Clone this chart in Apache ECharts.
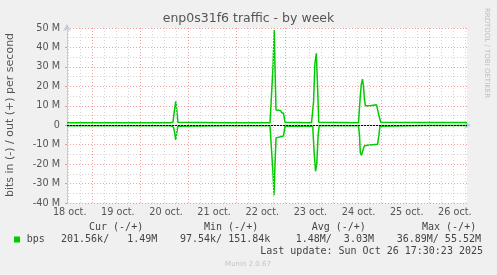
<!DOCTYPE html>
<html><head><meta charset="utf-8">
<script src="https://cdn.jsdelivr.net/npm/echarts@6/dist/echarts.min.js"></script>
<style>html,body{margin:0;padding:0;background:#f0f0f0}#c{width:497px;height:275px}</style>
</head><body><div id="c"></div>
<script>
// ---- data (x = hours since 18 Oct 00:00, y = Mbit/s) ----
const chartTitle = 'enp0s31f6 traffic - by week';
const yAxisTitle = 'bits in (-) / out (+) per second';
const dayLabels = ['18 oct.', '19 oct.', '20 oct.', '21 oct.', '22 oct.', '23 oct.', '24 oct.', '25 oct.', '26 oct.'];
const labelHours = [12, 36, 60, 84, 108, 132, 156, 180, 204];
const xMin = 11.4, xMax = 210.8;
const yMin = -40, yMax = 50, yStep = 10;

const outBps = [
  [11.4, 1.3], [40, 1.3], [62.7, 1.3], [63.5, 0.6], [64.2, 1.5], [65.0, 8], [65.6, 12.3], [66.1, 8], [66.7, 1.5], [67.2, 1.3],
  [90, 1.3], [112.6, 1.3], [113.3, 2.0], [114.1, 30], [114.7, 49], [115.2, 25], [115.6, 7.8], [117.9, 7.6], [118.3, 6.5], [119.3, 6.2], [120.1, 1.5], [120.6, 1.3],
  [133.3, 1.3], [134.3, 12], [135.0, 32], [135.7, 37], [136.3, 20], [136.9, 1.5], [137.4, 1.3],
  [156.7, 1.3], [157.1, 2], [157.6, 15], [158.1, 21], [158.7, 23.7], [159.2, 20], [159.7, 13], [160.2, 10], [162.4, 10], [165.7, 10.5], [166.2, 11], [166.9, 5], [167.8, 1.5], [168.3, 1.4],
  [190, 1.4], [210.8, 1.4]
];
const inBps = [
  [11.4, -0.3], [40, -0.3], [63.2, -0.3], [63.7, -1.2], [64.5, -1], [65.1, -4], [65.6, -7.5], [66.1, -4], [66.7, -0.5], [67.2, -0.3],
  [90, -0.3], [112.6, -0.3], [113.3, -0.5], [114.1, -25], [114.6, -36], [115.1, -20], [115.6, -6.5], [116.3, -5.8], [119.3, -5.5], [120.1, -0.5], [120.6, -0.3],
  [133.9, -0.5], [134.6, -14], [135.3, -23.7], [135.9, -20], [136.6, -5], [137.1, -0.3],
  [156.7, -0.3], [157.2, -5], [157.6, -14], [158.2, -15.5], [158.7, -16.3], [159.2, -12], [159.7, -10.5], [162.4, -10.2], [166.2, -9.8], [166.9, -5], [167.4, -0.5], [167.9, -0.3],
  [190, -0.2], [210.8, -0.2]
];

const legendName = 'bps';
const legendHeads = ['Cur (-/+)', 'Min (-/+)', 'Avg (-/+)', 'Max (-/+)'];
const legendValues = ['201.56k/   1.49M', '97.54k/ 151.84k', '1.48M/  3.03M', '36.89M/ 55.52M'];
const lastUpdate = 'Last update: Sun Oct 26 17:30:23 2025';
const watermark = 'RRDTOOL / TOBI OETIKER';
const footer = 'Munin 2.0.67';

// ---- grid positions (hours) ----
const majorX = [], minorX = [];
for (let h = 0; h <= xMax; h += 6) {
  if (h < xMin) continue;
  if (h % 24 === 0) majorX.push(h); else minorX.push(h);
}

const GREEN = '#00cc00';
const SANS = 'DejaVu Sans';
const MAJOR = 'rgba(230,80,80,0.55)';
const MINOR = '#d4d4d4';

const chart = echarts.init(document.getElementById('c'), null, {renderer: 'canvas'});

const headX = [89, 204, 311.7, 422];
const valX = [61, 180, 295.7, 396.7];

const graphics = [
  {type: 'text', left: 'center', top: 12.5, style: {text: chartTitle, font: '12.5px "DejaVu Sans"', fill: '#555'}},
  {type: 'text', x: 10, y: 115, rotation: Math.PI / 2, style: {text: yAxisTitle, font: '11px "DejaVu Sans"', fill: '#555', align: 'center', verticalAlign: 'middle'}},
  {type: 'text', x: 487, y: 53, rotation: -Math.PI / 2, style: {text: watermark, font: '7px "DejaVu Sans"', fill: '#bdbdbd', align: 'center', verticalAlign: 'middle'}},
  {type: 'rect', shape: {x: 14, y: 236.5, width: 6, height: 6}, style: {fill: GREEN}},
  {type: 'text', x: 26.7, y: 239.5, style: {text: legendName, font: '10px "DejaVu Sans Mono"', fill: '#444', verticalAlign: 'middle'}},
  {type: 'text', x: 483, y: 251.3, style: {text: lastUpdate, font: '10px "DejaVu Sans Mono"', fill: '#444', align: 'right', verticalAlign: 'middle'}},
  {type: 'text', x: 248, y: 264.3, style: {text: footer, font: '7px "DejaVu Sans"', fill: '#c4c4c4', align: 'center', verticalAlign: 'middle'}}
];
legendHeads.forEach((t, i) => graphics.push({type: 'text', x: headX[i], y: 227.7, style: {text: t, font: '10px "DejaVu Sans Mono"', fill: '#444', verticalAlign: 'middle'}}));
legendValues.forEach((t, i) => graphics.push({type: 'text', x: valX[i], y: 239.5, style: {text: t, font: '10px "DejaVu Sans Mono"', fill: '#444', verticalAlign: 'middle'}}));

const vLine = (h, color) => ({xAxis: h, lineStyle: {color: color, type: [1, 2], width: 1}});

chart.setOption({
  backgroundColor: '#f0f0f0',
  animation: false,
  grid: {left: 67, right: 30, top: 28, bottom: 72, show: true, backgroundColor: '#ffffff', borderWidth: 0},
  xAxis: {
    type: 'value', min: xMin, max: xMax,
    axisLine: {show: true, lineStyle: {color: '#c4c8e4', width: 1}, symbol: ['none', 'arrow'], symbolSize: [6, 7], symbolOffset: [0, 4]},
    axisTick: {show: false},
    splitLine: {show: false},
    axisLabel: {
      customValues: labelHours, margin: 4, padding: [0, 0, 0, 3],
      fontFamily: SANS, fontSize: 9.7, color: '#555',
      formatter: v => dayLabels[labelHours.indexOf(v)] || ''
    }
  },
  yAxis: {
    type: 'value', min: yMin, max: yMax, interval: yStep,
    axisLine: {show: true, lineStyle: {color: '#c4c8e4', width: 1}, symbol: ['none', 'arrow'], symbolSize: [6, 7], symbolOffset: [0, 4]},
    axisTick: {show: true, length: 2, inside: false, lineStyle: {color: MAJOR}},
    splitLine: {show: true, lineStyle: {color: MAJOR, type: [1, 2], width: 1}},
    minorTick: {show: true, splitNumber: 2, length: 0},
    minorSplitLine: {show: true, lineStyle: {color: MINOR, type: [1, 2], width: 1}},
    axisLabel: {margin: 7, fontFamily: SANS, fontSize: 9.7, color: '#555', formatter: v => v === 0 ? '0' : v + ' M'}
  },
  graphic: graphics,
  series: [
    {
      type: 'line', data: [], z: 1, silent: true,
      markLine: {silent: true, symbol: 'none', label: {show: false}, animation: false,
        data: minorX.map(h => vLine(h, MINOR)).concat(majorX.map(h => vLine(h, MAJOR)))}
    },
    {
      name: 'in', type: 'line', data: inBps, showSymbol: false, z: 3, silent: true,
      lineStyle: {color: GREEN, width: 1.5}, itemStyle: {color: GREEN}
    },
    {
      name: 'out', type: 'line', data: outBps, showSymbol: false, z: 3, silent: true,
      lineStyle: {color: GREEN, width: 1.5}, itemStyle: {color: GREEN},
      markLine: {silent: true, symbol: 'none', label: {show: false}, animation: false,
        data: [{yAxis: 0, lineStyle: {color: '#000', type: [2, 1], width: 1}}]}
    }
  ]
});
</script>
</body></html>
